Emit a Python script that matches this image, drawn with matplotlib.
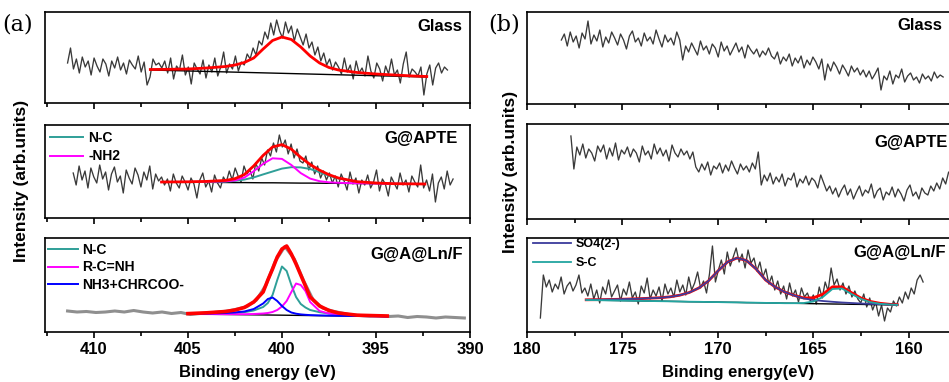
import numpy as np
import matplotlib.pyplot as plt
from matplotlib.ticker import MultipleLocator

plt.rcParams['font.family'] = ['Liberation Sans', 'DejaVu Sans']
plt.rcParams['font.weight'] = 'bold'

W, H = 949, 382

# ---------------- (a) N 1s ----------------
# Glass
a1_span = (411.4, 391.2)
a1_counts = [40, 55, 34, 44, 30, 46, 36, 42, 28, 45,
             37, 31, 44, 39, 27, 42, 35, 46, 33, 40,
             29, 43, 38, 34, 47, 31, 41, 18, 26, 44,
             38, 40, 35, 42, 30, 45, 24, 37, 33, 48,
             28, 36, 19, 40, 34, 29, 43, 25, 38, 31,
             45, 27, 36, 51, 30, 39, 34, 47, 32, 41,
             38, 49, 44, 55, 48, 62, 58, 71, 64, 80,
             68, 83, 72, 65, 81, 70, 77, 62, 74, 66,
             58, 69, 55, 61, 48, 56, 42, 50, 38, 44,
             33, 41, 36, 29, 45, 31, 38, 24, 42, 30,
             35, 27, 47, 32, 25, 40, 34, 22, 37, 29,
             44, 28, 33, 20, 39, 51, 26, 34, 31, 27,
             36, 8, 29, 38, 18, 35, 40, 30, 36, 33]
a1_fit_e = [407, 406, 405, 404, 403, 402.5, 402, 401.5, 401, 400.5, 400,
            399.5, 399, 398.5, 398, 397.5, 397, 396, 395, 394, 393, 392.3]
a1_fit = [33.5, 33.7, 34, 35, 36.5, 38, 40.5, 45, 54, 62.5, 66,
          63.5, 56, 47, 40, 35.5, 33, 30.5, 29, 28, 27, 26.5]
a1_base_e = [407, 392.3]
a1_base = [33, 26]

# G@APTE
a2_span = (411.1, 390.9)
a2_counts = [45, 33, 52, 38, 47, 30, 50, 41, 35, 53,
             39, 46, 28, 44, 51, 36, 42, 25, 48, 40,
             34, 50, 43, 31, 46, 38, 52, 29, 44, 37,
             41, 33, 39, 27, 44, 35, 30, 42, 36, 28,
             40, 34, 20, 38, 45, 31, 37, 26, 43, 35,
             30, 41, 36, 47, 38, 50, 42, 36, 52, 44,
             48, 39, 55, 47, 60, 53, 68, 62, 75, 66,
             83, 71, 78, 64, 74, 60, 69, 57, 55, 62,
             48, 56, 44, 52, 40, 47, 38, 45, 35, 42,
             31, 44, 37, 28, 46, 34, 40, 25, 38, 33,
             43, 30, 36, 48, 27, 39, 34, 22, 41, 35,
             29, 45, 33, 38, 26, 42, 36, 31, 53, 30,
             38, 27, 44, 16, 35, 41, 29, 47, 33, 39]
a2_fit_e = [406.4, 405, 404, 403, 402.5, 402, 401.5, 401, 400.5, 400,
            399.5, 399, 398.5, 398, 397.5, 397, 396, 395, 394, 392.4]
a2_base = [36, 35.8, 35.7, 35.5, 35.4, 35.4, 35.3, 35.2, 35.2, 35.1,
           35.0, 34.9, 34.9, 34.8, 34.7, 34.7, 34.5, 34.4, 34.2, 34.0]
a2_nc = [0, 0.1, 0.3, 0.9, 1.7, 3, 5.3, 8.4, 11.3, 14.3,
         15.8, 15.7, 14.1, 11, 7.6, 4.8, 1.6, 0.5, 0.1, 0]
a2_nh2 = [0, 0.3, 0.6, 1.2, 2.2, 5, 11.5, 19, 24.5, 24,
          18, 10, 4.5, 2, 1, 0.5, 0.2, 0.1, 0, 0]

# G@A@Ln/F
a3_span = (411.4, 390.3)
a3_counts = [21, 20, 20.5, 19.5, 20, 21, 20, 21.5, 20, 19,
             20, 18.5, 19.5, 17.5, 18.5, 19, 20, 21, 23, 25.5,
             32, 47, 71, 85.5, 73, 51, 32, 24, 21, 19,
             17, 16.5, 16, 16.5, 15.5, 16, 14.5, 15.5, 15, 14,
             15, 14.5, 14]
a3_fit_e = [405, 404, 403, 402.5, 402, 401.5, 401, 400.75, 400.5, 400.25, 400,
            399.75, 399.5, 399.25, 399, 398.75, 398.5, 398, 397.5, 397, 396, 395, 394.4]
a3_nc = [18.1, 18.2, 18.5, 19, 19.8, 21.5, 25, 29, 37, 52, 65.5,
         61, 47, 35, 28, 24.5, 22, 19.8, 18.5, 17.6, 16.7, 16.0, 15.7]
a3_rcnh = [18.0, 17.9, 17.8, 17.8, 17.8, 18, 18.5, 19, 20, 22, 25.5,
           31, 40, 48.5, 47, 41, 30, 21, 18.5, 17.6, 16.6, 15.9, 15.6]
a3_nh3 = [18.2, 18.4, 19, 19.6, 20.5, 23, 28.5, 33, 34.5, 31, 26,
          22, 19.5, 18.3, 17.6, 17.2, 16.9, 16.6, 16.4, 16.2, 16, 15.7, 15.5]
a3_fit = [18.4, 19.2, 20.5, 22, 24.5, 30, 40, 52, 63, 75, 83,
          86, 78, 68, 57, 46, 35, 26, 21.5, 19, 16.8, 16.3, 16.0]
a3_base_e = [405, 394.4]
a3_base = [18, 15.5]

# ---------------- (b) S 2p ----------------
b1_span = (178.2, 158.2)
b1_counts = [64, 70, 58, 72, 62, 68, 56, 71, 65, 83,
             60, 69, 63, 74, 57, 67, 61, 72, 66, 59,
             70, 64, 55, 68, 73, 62, 66, 58, 71, 63,
             67, 60, 74, 65, 57, 69, 62, 66, 59, 72,
             64, 44, 58, 52, 61, 55, 49, 63, 54, 58,
             50, 60, 56, 47, 62, 53, 58, 49, 55, 61,
             52, 57, 46, 59, 54, 50, 55, 47, 53, 49,
             56, 48, 45, 52, 40, 47, 43, 50, 38, 46,
             41, 48, 36, 44, 39, 47, 42, 35, 45, 24,
             40, 33, 42, 37, 30, 39, 34, 28, 38, 32,
             36, 29, 34, 27, 33, 25, 30, 36, 14, 28,
             24, 33, 20, 29, 26, 35, 22, 28, 31, 24,
             27, 21, 30, 25, 28, 23, 32, 26, 29, 27]

b2_span = (177.7, 157.6)
b2_counts = [83, 50, 72, 64, 75, 61, 70, 66, 58, 73,
             67, 74, 60, 71, 63, 76, 59, 69, 65, 72,
             62, 70, 66, 57, 73, 64, 68, 60, 75, 65,
             71, 63, 69, 58, 74, 66, 62, 70, 64, 68,
             60, 67, 52, 47, 55, 49, 57, 44, 53, 50,
             56, 46, 54, 48, 58, 51, 45, 55, 49, 53,
             47, 56, 50, 67, 34, 44, 38, 46, 35, 42,
             37, 45, 33, 41, 39, 46, 32, 40, 36, 43,
             34, 41, 38, 31, 44, 36, 28, 33, 25, 31,
             22, 29, 34, 24, 30, 20, 27, 33, 23, 29,
             26, 35, 21, 28, 31, 19, 27, 24, 32, 22,
             30, 25, 18, 29, 34, 23, 27, 20, 31, 26,
             24, 33, 28, 36, 30, 41, 35, 47, 44, 56]

b3_span = (179.3, 159.25)
b3_counts = [14, 57, 45, 52, 40, 48, 43, 55, 38, 46,
             50, 41, 47, 57, 39, 44, 36, 48, 33, 42,
             29, 45, 38, 52, 35, 41, 47, 31, 43, 37,
             50, 34, 40, 28, 46, 39, 54, 33, 42, 36,
             45, 31, 48, 38, 44, 35, 52, 40, 47, 37,
             55, 42, 49, 60, 44, 51, 39, 58, 86, 50,
             62, 72, 58, 80, 66, 75, 84, 70, 78, 64,
             82, 69, 74, 61, 70, 55, 63, 48, 56, 42,
             51, 38, 46, 33, 49, 36, 42, 30, 44, 35,
             39, 31, 37, 28, 45, 34, 50, 41, 64, 47,
             53, 42, 49, 38, 46, 35, 41, 33, 29, 38,
             25, 34, 22, 30, 16, 27, 11, 24, 20, 31,
             26, 35, 29, 40, 33, 44, 38, 52, 57, 50]
b3_fit_e = [176.9, 176, 175, 174, 173, 172.5, 172, 171.5, 171, 170.5,
            170, 169.5, 169, 168.5, 168, 167.5, 167, 166.5, 166, 165.5,
            165, 164.5, 164, 163.5, 163, 162.5, 162, 161.5, 161, 160.6]
b3_base = [32, 31.7, 31.4, 31.1, 30.8, 30.65, 30.5, 30.3, 30.2, 30.0,
           29.9, 29.7, 29.6, 29.4, 29.3, 29.1, 29.0, 28.8, 28.7, 28.5,
           28.3, 28.2, 28.0, 27.9, 27.7, 27.6, 27.4, 27.3, 27.1, 27.0]
b3_so4 = [32.2, 32.4, 32.8, 33.4, 34.3, 35.2, 36.8, 39.5, 44, 51,
          61, 70, 74, 71.5, 63, 52, 45, 40, 36.5, 33.5,
          32, 31, 30.2, 29.5, 29, 28.5, 28.1, 27.8, 27.4, 27.2]
b3_sc = [32, 31.7, 31.4, 31.1, 30.8, 30.65, 30.5, 30.3, 30.2, 30.0,
         29.9, 29.7, 29.6, 29.4, 29.3, 29.1, 29.0, 28.8, 28.8, 29,
         30.5, 35, 43, 43.5, 38, 33, 29.8, 28.2, 27.4, 27.1]

DATA = '#3a3a3a'
TEAL = '#2f9f98'
MAG = '#ff00ff'
BLUE = '#0000ff'
NAVY = '#3c3c9c'
RED = '#ff0000'

fig = plt.figure(figsize=(W / 100, H / 100), dpi=100)


def panel(l, t, r, b, xlim, show_labels):
    ax = fig.add_axes([l / W, 1 - b / H, (r - l) / W, (b - t) / H])
    ax.set_xlim(*xlim)
    ax.set_ylim(0, b - t)
    ax.set_yticks([])
    ax.xaxis.set_major_locator(MultipleLocator(5))
    ax.xaxis.set_minor_locator(MultipleLocator(2.5))
    ax.tick_params(axis='x', which='major', direction='out', length=4.5,
                   width=1.2, labelsize=12, pad=2.5, labelbottom=show_labels)
    ax.tick_params(axis='x', which='minor', direction='out', length=3, width=1.2)
    for s in ax.spines.values():
        s.set_linewidth(1.2)
    return ax


def trace(span, counts):
    return np.linspace(span[0], span[1], len(counts)), np.array(counts, float)


# (a) panels
ax = panel(45, 12, 470, 103, (412.6, 390), False)
ax.plot(*trace(a1_span, a1_counts), color=DATA, lw=0.95)
ax.plot(a1_base_e, a1_base, color='black', lw=1)
ax.plot(a1_fit_e, a1_fit, color=RED, lw=2)

ax = panel(45, 125, 470, 218, (412.6, 390), False)
ax.plot(*trace(a2_span, a2_counts), color=DATA, lw=0.95)
base = np.array(a2_base)
ax.plot(a2_fit_e, base, color='black', lw=1)
ax.plot(a2_fit_e, base + np.array(a2_nc), color=TEAL, lw=1.4, label='N-C')
ax.plot(a2_fit_e, base + np.array(a2_nh2), color=MAG, lw=1.4, label='-NH2')
ax.plot(a2_fit_e, base + np.array(a2_nc) + np.array(a2_nh2), color=RED, lw=2)
ax.legend(loc='upper left', bbox_to_anchor=(5 / 425, 1 - 6 / 93), frameon=False,
          fontsize=10, handlelength=2.4, handletextpad=0.35, labelspacing=0.32,
          borderaxespad=0, borderpad=0)

ax = panel(45, 238, 470, 332, (412.6, 390), True)
ax.plot(*trace(a3_span, a3_counts), color='#8f8f8f', lw=2.2)
ax.plot(a3_base_e, a3_base, color='black', lw=1)
ax.plot(a3_fit_e, a3_nc, color=TEAL, lw=1.4, label='N-C')
ax.plot(a3_fit_e, a3_rcnh, color=MAG, lw=1.4, label='R-C=NH')
ax.plot(a3_fit_e, a3_nh3, color=BLUE, lw=1.4, label='NH3+CHRCOO-')
ax.plot(a3_fit_e, a3_fit, color=RED, lw=2.6)
ax.legend(loc='upper left', bbox_to_anchor=(3 / 425, 1 - 5 / 94), frameon=False,
          fontsize=10, handlelength=2.15, handletextpad=0.3, labelspacing=0.25,
          borderaxespad=0, borderpad=0)

# (b) panels
bx = (180, 157.5)
ax = panel(527, 12, 956.5, 104, bx, False)
ax.plot(*trace(b1_span, b1_counts), color=DATA, lw=0.95)

ax = panel(527, 124, 956.5, 219, bx, False)
ax.plot(*trace(b2_span, b2_counts), color=DATA, lw=0.95)

ax = panel(527, 238, 956.5, 332, bx, True)
ax.plot(*trace(b3_span, b3_counts), color=DATA, lw=0.95)
base = np.array(b3_base)
so4 = np.array(b3_so4)
sc = np.array(b3_sc)
ax.plot(b3_fit_e, base, color='black', lw=1)
ax.plot(b3_fit_e, so4 + sc - base, color=RED, lw=2)
ax.plot(b3_fit_e, so4, color=NAVY, lw=1.3, label='SO4(2-)')
ax.plot(b3_fit_e, sc, color='#22a5a0', lw=1.3, label='S-C')
ax.legend(loc='upper left', bbox_to_anchor=(6 / 429.5, 1.0), frameon=False,
          fontsize=9, handlelength=3.0, handletextpad=0.45, labelspacing=0.6,
          borderaxespad=0, borderpad=0)

# sample names
for x, y, s in [(462, 26.5, 'Glass'), (458, 138.5, 'G@APTE'), (463, 255, 'G@A@Ln/F'),
                (942, 26, 'Glass'), (948, 142.5, 'G@APTE'), (946, 253, 'G@A@Ln/F')]:
    fig.text(x / W, 1 - y / H, s, ha='right', va='center', fontsize=12)

fig.text(2 / W, 1 - 24 / H, '(a)', family='DejaVu Serif', weight='normal',
         fontsize=16, ha='left', va='center')
fig.text(488 / W, 1 - 24 / H, '(b)', family='DejaVu Serif', weight='normal',
         fontsize=16, ha='left', va='center')

fig.text(22 / W, 1 - 181 / H, 'Intensity (arb.units)', rotation=90,
         ha='center', va='center', fontsize=12.5)
fig.text(510 / W, 1 - 172 / H, 'Intensity (arb.units)', rotation=90,
         ha='center', va='center', fontsize=12.5)
fig.text(257 / W, 1 - 372 / H, 'Binding energy (eV)', ha='center', va='center', fontsize=12)
fig.text(738 / W, 1 - 372 / H, 'Binding energy(eV)', ha='center', va='center', fontsize=12)

fig.savefig('out.png', dpi=100)
